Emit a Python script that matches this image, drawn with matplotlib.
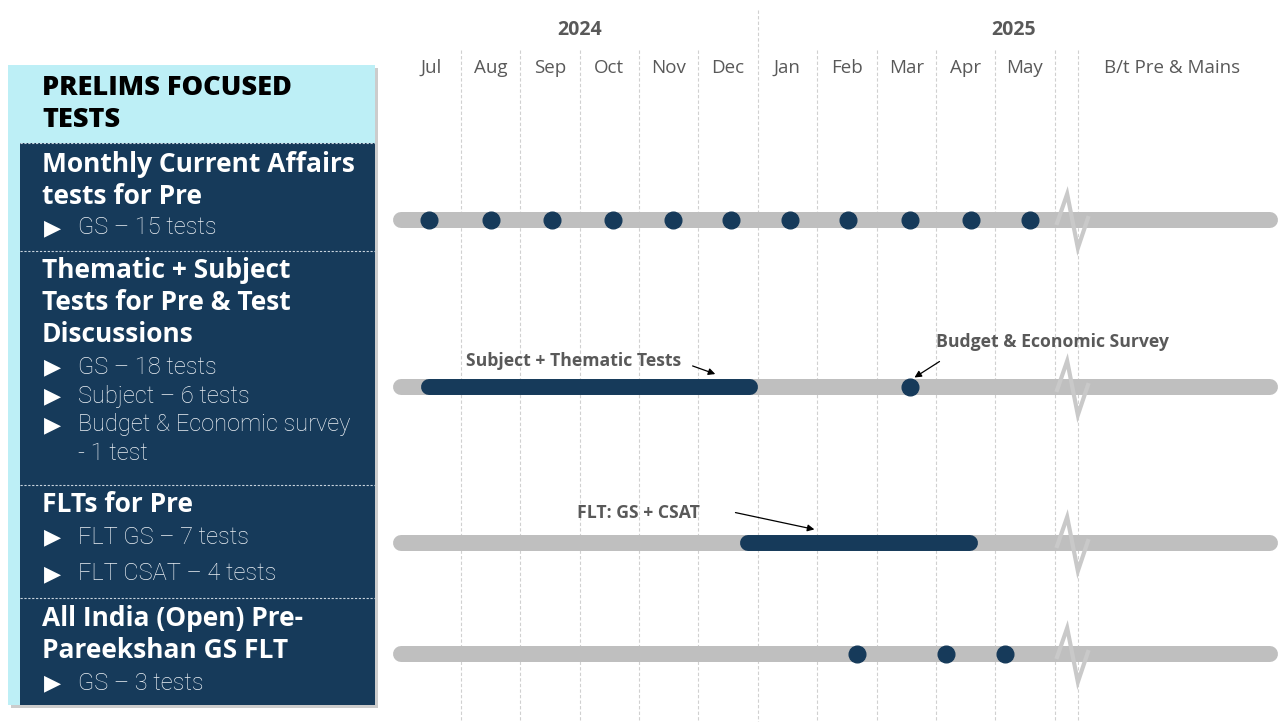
import numpy as np
import matplotlib.pyplot as plt
from matplotlib.patches import Rectangle

# timeline data (month index, Jul 2024 = 0)
months = ['Jul', 'Aug', 'Sep', 'Oct', 'Nov', 'Dec', 'Jan', 'Feb', 'Mar', 'Apr', 'May']
month_pos = np.arange(len(months))
extra_label = 'B/t Pre & Mains'
extra_pos = 12.47
years = ['2024', '2025']
year_pos = [2.5, 9.8]

monthly_ca = [-0.03, 1.01, 2.04, 3.06, 4.07, 5.05, 6.04, 7.02, 8.06, 9.09, 10.08]
thematic_span = [-0.17, 5.5]
budget_test = [8.06]
flt_span = [5.2, 9.21]
pareekshan = [7.17, 8.67, 9.66]

# left panel text
header = 'PRELIMS FOCUSED\nTESTS'
titles = [['Monthly Current Affairs', 'tests for Pre'],
          ['Thematic + Subject', 'Tests for Pre & Test', 'Discussions'],
          ['FLTs for Pre'],
          ['All India (Open) Pre-', 'Pareekshan GS FLT']]
bullets = [['GS – 15 tests'],
           ['GS – 18 tests', 'Subject – 6 tests', 'Budget & Economic survey', None],
           ['FLT GS – 7 tests', 'FLT CSAT – 4 tests'],
           ['GS – 3 tests']]

navy = '#163a5a'
grey = '#bfbfbf'
cyan = '#bdeff6'
txtgrey = '#595959'

W, H = 1282, 722
fig = plt.figure(figsize=(W / 100, H / 100), dpi=100)

# ---------- left panel (pixel coords) ----------
axl = fig.add_axes([0, 0, 1, 1])
axl.set_xlim(0, W)
axl.set_ylim(H, 0)
axl.axis('off')
axl.add_patch(Rectangle((11, 68), 367, 640, color='#9a9a9a', alpha=0.5, lw=0))
axl.add_patch(Rectangle((8, 65), 367, 640, color=cyan, lw=0))
axl.add_patch(Rectangle((20, 143), 355, 562, color=navy, lw=0))
for y in [143, 251, 485, 598]:
    axl.plot([20, 375], [y, y], color='#c8d3dd', lw=0.8, ls=(0, (2, 1.5)))

axl.text(42, 104, header, fontsize=19.5, fontweight='black', family='Open Sans',
         va='center', ha='left', linespacing=1.3, color='black')

title_y = [[164, 196], [271, 303, 335], [505], [619, 651]]
bullet_y = [[228], [367, 396, 425, 453], [537, 574], [683]]
for tl, ty in zip(titles, title_y):
    for t, y in zip(tl, ty):
        axl.text(42, y, t, fontsize=19, fontweight='bold', family='Open Sans',
                 color='white', va='center', ha='left')
for bl, by in zip(bullets, bullet_y):
    for b, y in zip(bl, by):
        if b is None:
            axl.text(78, y, '- 1 test', fontsize=17, fontweight='light',
                     family=['Roboto', 'DejaVu Sans'], color='#edf1f5', va='center')
            continue
        axl.text(44, y, '▶', fontsize=16, family='DejaVu Sans', color='white', va='center')
        axl.text(78, y, b, fontsize=17, fontweight='light',
                 family=['Roboto', 'DejaVu Sans'], color='#edf1f5', va='center')

# ---------- timeline (x in months, y in pixels) ----------
px_per_m = 59.4
x0px = 385
ax = fig.add_axes([x0px / W, 0, (W - x0px) / W, 1])
ax.set_xlim((x0px - 431) / px_per_m, (W - 431) / px_per_m)
ax.set_ylim(H, 0)
ax.axis('off')

# grid lines
for g in list(month_pos[:-1] + 0.5) + [10.5, 10.89]:
    top = 10 if g == 5.5 else 50
    ax.plot([g, g], [top, H], color='#d0d0d0', lw=0.8, ls=(0, (3, 2)), zorder=0)

for m, p in zip(months, month_pos):
    ax.text(p, 68, m, ha='center', va='center', fontsize=13.5, family='Open Sans', color=txtgrey)
ax.text(extra_pos, 68, extra_label, ha='center', va='center', fontsize=13.5,
        family='Open Sans', color=txtgrey)
for yr, p in zip(years, year_pos):
    ax.text(p, 30, yr, ha='center', va='center', fontsize=14, fontweight='bold',
            family='Open Sans', color=txtgrey)

row_y = [220, 387, 543, 654]
cap = 8 / px_per_m
bar_lw = 11.5
for y in row_y:
    ax.plot([-0.5, 14.13], [y, y], color=grey, lw=bar_lw, solid_capstyle='round', zorder=1)
    zx = [10.54, 10.71, 10.89, 11.06]
    zy = [y + 3, y - 26, y + 28, y - 2]
    ax.plot(zx, zy, color='#c9c9c9', lw=3, zorder=2, solid_joinstyle='miter')

# row 1
ax.plot(monthly_ca, [row_y[0]] * len(monthly_ca), 'o', color=navy, ms=12, zorder=3)
# row 2
ax.plot([thematic_span[0] + cap, thematic_span[1] - cap], [row_y[1]] * 2, color=navy,
        lw=bar_lw, solid_capstyle='round', zorder=3)
ax.plot(budget_test, [row_y[1]] * len(budget_test), 'o', color=navy, ms=12, zorder=3)
# row 3
ax.plot([flt_span[0] + cap, flt_span[1] - cap], [row_y[2]] * 2, color=navy,
        lw=bar_lw, solid_capstyle='round', zorder=3)
# row 4
ax.plot(pareekshan, [row_y[3]] * len(pareekshan), 'o', color=navy, ms=12, zorder=3)

ann = dict(fontsize=12.7, fontweight='bold', family='Open Sans', color=txtgrey, va='center')
arr = dict(arrowstyle='-|>', color='black', lw=0.9, mutation_scale=10)
ax.text(0.59, 361, 'Subject + Thematic Tests', ha='left', **ann)
ax.annotate('', xy=(4.83, 375), xytext=(4.36, 365), arrowprops=arr)
ax.text(8.5, 342, 'Budget & Economic Survey', ha='left', **ann)
ax.annotate('', xy=(8.1, 379), xytext=(8.6, 360), arrowprops=arr)
ax.text(2.45, 513, 'FLT: GS + CSAT', ha='left', **ann)
ax.annotate('', xy=(6.5, 530), xytext=(5.08, 512), arrowprops=arr)

fig.savefig('out.png', dpi=100)
